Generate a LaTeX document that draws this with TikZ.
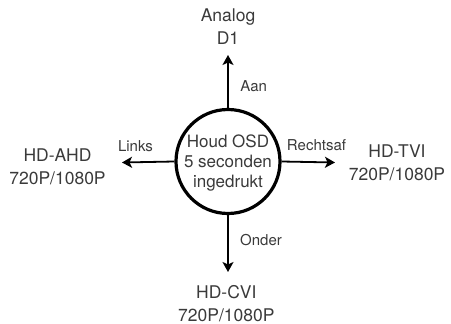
\documentclass[tikz,border=0pt]{standalone}
\usepackage{fontspec}
\setmainfont{TeX Gyre Heros}
\usetikzlibrary{arrows.meta}
\definecolor{txtgray}{HTML}{3A3A3A}
\tikzset{
	mode/.style={align=center,text=txtgray,font=\fontsize{17.5}{23}\selectfont,inner sep=0pt},
	richting/.style={text=txtgray,font=\fontsize{15}{18}\selectfont,inner sep=0pt},
	pijl/.style={line width=1.8pt,-{Stealth[length=10pt,width=11pt,inset=2.5pt]}}
}
\begin{document}
\begin{tikzpicture}[x=1pt,y=-1pt]
		\useasboundingbox (0,0) rectangle (451,324);
		\node[circle,draw,line width=3.2pt,minimum size=104pt,inner sep=0pt,text depth=0pt,
			align=center,text=txtgray,font=\fontsize{17}{20}\selectfont]
			(osd) at (228,161.5) {Houd OSD\\5 seconden\\ingedrukt};
		
		\coordinate (tipN) at (228,55);
		\coordinate (tipS) at (228,272);
		\coordinate (tipW) at (122,162.5);
		\coordinate (tipE) at (335,162.5);
		
		\draw[pijl] (osd.north) -- (tipN);
		\draw[pijl] (osd.south) -- (tipS);
		\draw[pijl] (osd.west) -- (tipW);
		\draw[pijl] (osd.east) -- (tipE);
		
		\node[richting] (aan) at (253.7,86) {Aan};
		\node[richting] (links) at (135.5,146) {Links};
		\node[richting] (rechtsaf) at (316.5,145.5) {Rechtsaf};
		\node[richting] (onder) at (261,240) {Onder};
		
		\node[mode] (analog) at (228,26.8) {Analog\\D1};
		\node[mode] (ahd) at (57.5,166.7) {HD-AHD\\720P/1080P};
		\node[mode] (tvi) at (397,162.5) {HD-TVI\\720P/1080P};
		\node[mode] (cvi) at (226.3,303.5) {HD-CVI\\720P/1080P};
\end{tikzpicture}
\end{document}
